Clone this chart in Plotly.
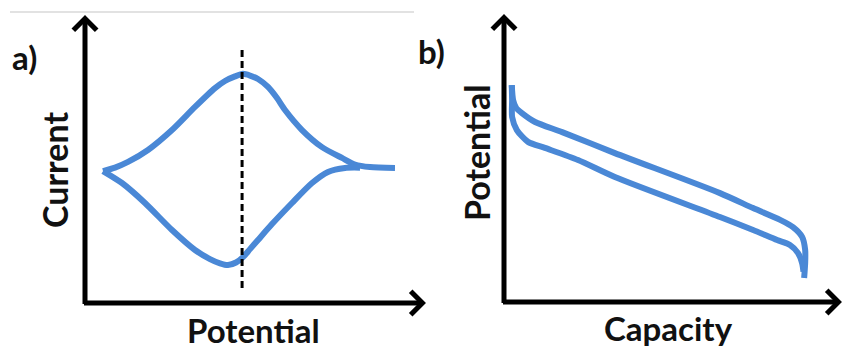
import plotly.graph_objects as go

W, H = 844, 349

# ---- Panel a: cyclic voltammogram (arbitrary units 0-10) ----
cv_upper_x = [0.545, 0.909, 1.303, 1.909, 2.636, 3.333, 3.939, 4.242, 4.545, 4.788, 5.0, 5.242, 5.545,
              5.818, 6.061, 6.576, 7.182, 7.788, 8.182, 8.636, 9.394]
cv_upper_y = [4.63, 4.75, 4.95, 5.37, 6.07, 6.88, 7.54, 7.79, 7.95, 8.04, 7.98, 7.86, 7.58,
              7.19, 6.77, 6.07, 5.47, 5.09, 4.86, 4.77, 4.74]
cv_lower_x = [0.545, 1.121, 1.818, 2.636, 3.333, 3.788, 4.091, 4.333, 4.576, 4.788, 5.0, 5.242,
              5.667, 6.273, 6.879, 7.364, 7.879, 8.333]
cv_lower_y = [4.63, 4.21, 3.51, 2.56, 1.86, 1.54, 1.39, 1.33, 1.42, 1.61, 1.89, 2.21,
              2.77, 3.51, 4.21, 4.60, 4.74, 4.75]
peak_potential = 4.76
peak_line_y = [8.88, 0.46]

# ---- Panel b: charge/discharge profiles (arbitrary units 0-10) ----
gcd_upper_x = [0.23, 0.27, 0.36, 0.53, 0.92, 1.72, 3.28, 6.39, 7.37, 8.17, 8.55, 8.82, 8.91, 8.91, 8.88]
gcd_upper_y = [7.53, 7.01, 6.74, 6.56, 6.25, 5.90, 5.17, 3.78, 3.26, 2.85, 2.60, 2.26, 1.81, 1.35, 0.83]
gcd_lower_x = [0.23, 0.24, 0.24, 0.38, 0.71, 1.21, 2.19, 3.28, 6.39, 7.37, 8.08, 8.46, 8.70, 8.82, 8.86]
gcd_lower_y = [7.53, 7.01, 6.42, 5.97, 5.56, 5.35, 4.93, 4.34, 2.95, 2.50, 2.15, 1.98, 1.70, 1.35, 1.05]

labels = {"a": "a)", "b": "b)", "a_y": "Current", "a_x": "Potential", "b_y": "Potential", "b_x": "Capacity"}

BLUE = "#4a88d6"
LW = 6

def px(x):
    return x / W

def py(y):
    return 1 - y / H

fig = go.Figure()

line_style = dict(color=BLUE, width=LW, shape="spline", smoothing=0.7)
fig.add_trace(go.Scatter(x=cv_upper_x, y=cv_upper_y, mode="lines", line=line_style, xaxis="x", yaxis="y"))
fig.add_trace(go.Scatter(x=cv_lower_x, y=cv_lower_y, mode="lines", line=line_style, xaxis="x", yaxis="y"))
fig.add_trace(go.Scatter(x=[peak_potential, peak_potential], y=peak_line_y, mode="lines",
                         line=dict(color="black", width=3, dash="7px,4px"), xaxis="x", yaxis="y"))
fig.add_trace(go.Scatter(x=gcd_upper_x, y=gcd_upper_y, mode="lines", line=line_style, xaxis="x2", yaxis="y2"))
fig.add_trace(go.Scatter(x=gcd_lower_x, y=gcd_lower_y, mode="lines", line=line_style, xaxis="x2", yaxis="y2"))

hidden = dict(visible=False, range=[0, 10], fixedrange=True)
fig.update_layout(
    width=W, height=H,
    margin=dict(l=0, r=0, t=0, b=0),
    paper_bgcolor="white", plot_bgcolor="white",
    showlegend=False,
    xaxis=dict(domain=[px(85), px(415)], anchor="y", **hidden),
    yaxis=dict(domain=[py(303), py(18)], anchor="x", **hidden),
    xaxis2=dict(domain=[px(504), px(842)], anchor="y2", **hidden),
    yaxis2=dict(domain=[py(302), py(14)], anchor="x2", **hidden),
)

# axis arrows
def arrow(hx, hy, ax, ay):
    fig.add_annotation(x=px(hx), y=py(hy), xref="paper", yref="paper", ax=ax, ay=ay,
                       text="", showarrow=True, arrowhead=4, arrowwidth=5, arrowsize=0.9,
                       arrowcolor="black", standoff=0)

arrow(426, 303, -343.5, 0)
arrow(85, 15, 0, 290.5)
arrow(842, 302, -340.5, 0)
arrow(504, 14, 0, 290.5)

# thin gray line on top
fig.add_shape(type="line", xref="paper", yref="paper", x0=px(10), x1=px(414), y0=py(12), y1=py(12),
              line=dict(color="#d8d8d8", width=1.5))

FONT = dict(family="Lato", size=34, color="#111111", weight="bold")

def text(t, x, y, angle=0, xanchor="center", size=34):
    f = dict(FONT, size=size)
    fig.add_annotation(x=px(x), y=py(y), xref="paper", yref="paper", text=t, showarrow=False,
                       textangle=angle, xanchor=xanchor, yanchor="middle", font=f)

text(labels["a"], 10, 57, xanchor="left", size=33)
text(labels["b"], 416, 51, xanchor="left", size=33)
text(labels["a_y"], 54, 170, angle=-90)
text(labels["a_x"], 253, 330, size=33)
text(labels["b_y"], 476, 153, angle=-90)
text(labels["b_x"], 668, 328, size=33)

fig.write_html("out.html")
